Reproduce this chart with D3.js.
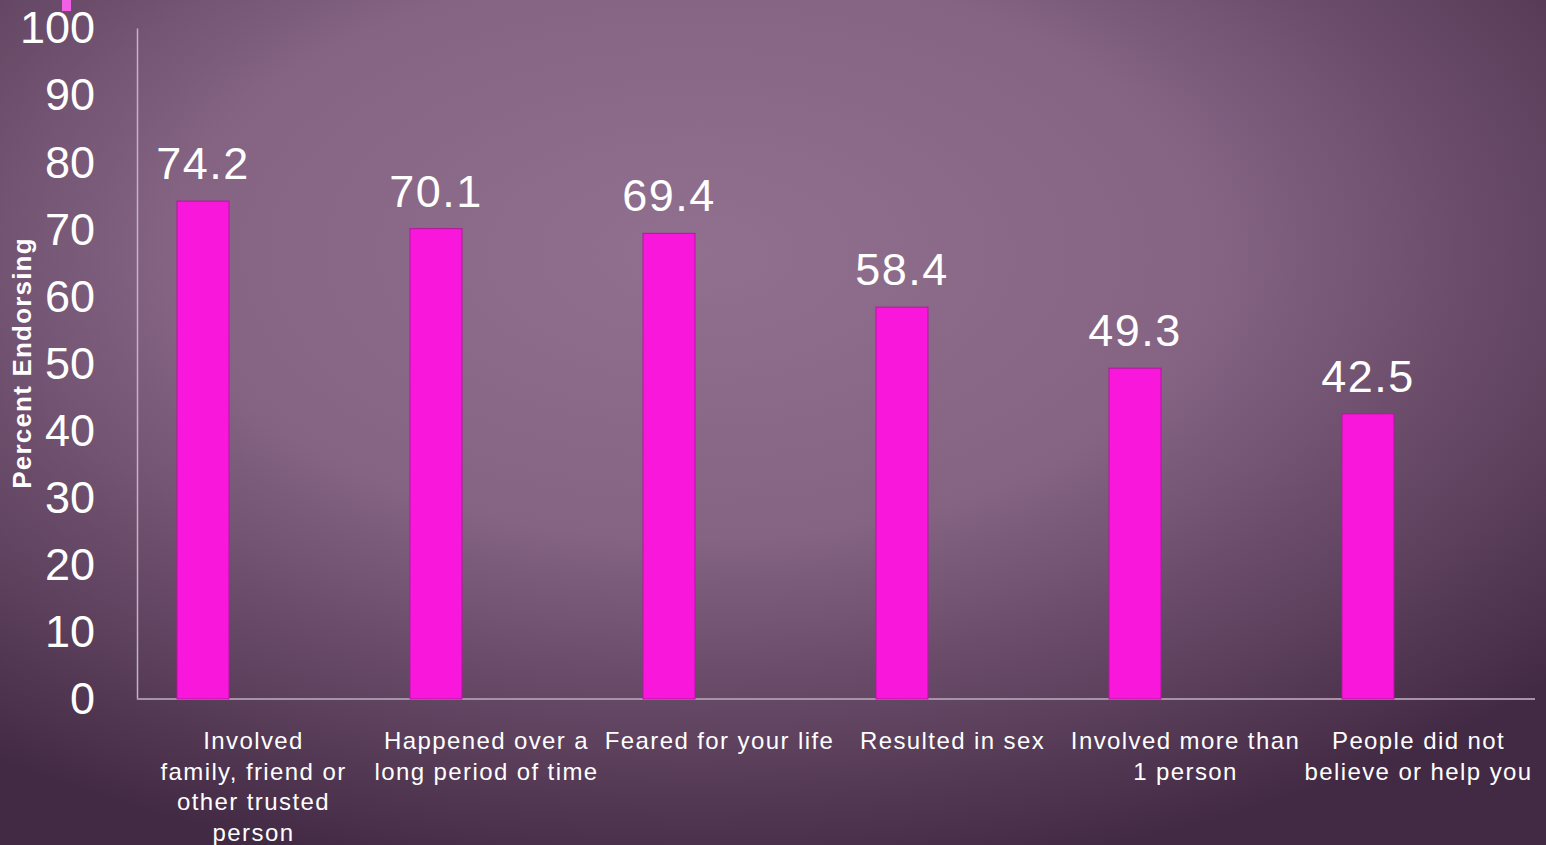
<!DOCTYPE html>
<html><head><meta charset="utf-8">
<script src="https://cdn.jsdelivr.net/npm/d3@7"></script>
<style>html,body{margin:0;padding:0;overflow:hidden;background:#6e5270}</style>
</head><body>
<svg id="c" width="1546" height="845"></svg>
<script>
const categories = [
  ["Involved","family, friend or","other trusted","person"],
  ["Happened over a","long period of time"],
  ["Feared for your life"],
  ["Resulted in sex"],
  ["Involved more than","1 person"],
  ["People did not","believe or help you"]
];
const values = [74.2, 70.1, 69.4, 58.4, 49.3, 42.5];
const yTicks = [0,10,20,30,40,50,60,70,80,90,100];
const yTitle = "Percent Endorsing";

const W = 1546, H = 845;
const svg = d3.select("#c");
const defs = svg.append("defs");
const g1 = defs.append("radialGradient").attr("id","bg")
  .attr("cx","0.45").attr("cy","0.3").attr("r","0.75");
g1.append("stop").attr("offset","0").attr("stop-color","#91708f");
g1.append("stop").attr("offset","0.45").attr("stop-color","#846383");
g1.append("stop").attr("offset","1").attr("stop-color","#432a44");
svg.append("rect").attr("width",W).attr("height",H).attr("fill","url(#bg)");

const x0 = 137, x1 = 1535, yb = 699, yt = 28;
const x = d3.scaleBand().domain(d3.range(categories.length)).range([x0, x1]).paddingInner(0).paddingOuter(0);
const y = d3.scaleLinear().domain([0,100]).range([yb, yt]);

// small marker at top-left
svg.append("rect").attr("x",62).attr("y",0).attr("width",9).attr("height",11).attr("fill","#f25ee6");

const font = "'Liberation Sans', Arial, sans-serif";

// y axis
const yAxis = d3.axisLeft(y).tickValues(yTicks).tickSize(0).tickPadding(42);
const ga = svg.append("g").attr("transform",`translate(${x0},0)`).call(yAxis);
ga.select(".domain").attr("stroke","#c4b3c6").attr("stroke-width",1.5);
ga.selectAll("text").attr("fill","#ffffff").attr("font-family",font).attr("font-size",45).attr("dy","0.33em");

// x axis line
svg.append("line").attr("x1",x0).attr("x2",x1).attr("y1",yb).attr("y2",yb)
  .attr("stroke","#a793a8").attr("stroke-width",2);

const barOff = 40, barW = 52;
svg.selectAll(".bar").data(values).enter().append("rect")
  .attr("x",(d,i)=>x(i)+barOff).attr("width",barW)
  .attr("y",d=>y(d)).attr("height",d=>yb-y(d))
  .attr("fill","#fa17dc").attr("stroke","#b3169e").attr("stroke-width",1);

svg.selectAll(".val").data(values).enter().append("text")
  .attr("x",(d,i)=>x(i)+barOff+barW/2).attr("y",d=>y(d)-22)
  .attr("text-anchor","middle").attr("fill","#fff").attr("font-family",font)
  .attr("font-size",45).attr("letter-spacing",1.5).text(d=>d.toFixed(1));

categories.forEach((lines,i)=>{
  const t = svg.append("text").attr("x",x(i)+x.bandwidth()/2).attr("y",749)
    .attr("text-anchor","middle").attr("fill","#fff").attr("font-family",font)
    .attr("font-size",24).attr("letter-spacing",1.4);
  lines.forEach((l,j)=>t.append("tspan").attr("x",x(i)+x.bandwidth()/2).attr("dy",j?30.5:0).text(l));
});

svg.append("text").attr("transform","translate(31,363) rotate(-90)")
  .attr("text-anchor","middle").attr("fill","#fff").attr("font-family",font)
  .attr("font-weight","bold").attr("font-size",26).attr("letter-spacing",1.2).text(yTitle);
</script>
</body></html>
